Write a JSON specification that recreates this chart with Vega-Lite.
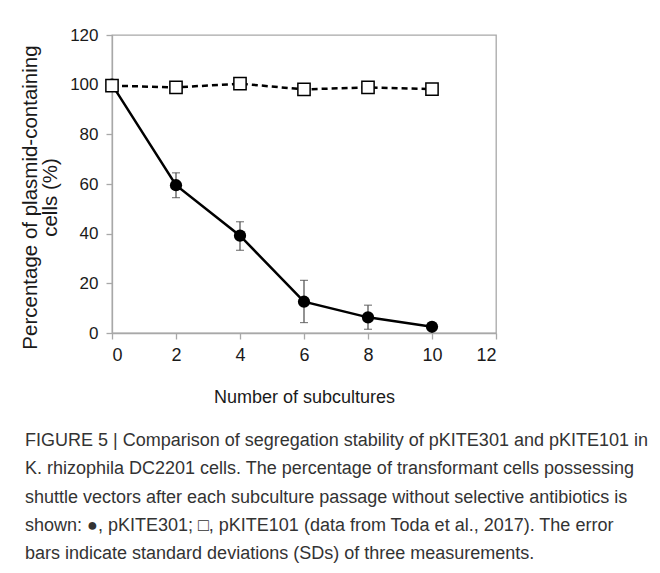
{
  "$schema": "https://vega.github.io/schema/vega-lite/v6.json",
  "width": 384,
  "height": 298,
  "autosize": "none",
  "padding": {"left": 112, "top": 35, "right": 164, "bottom": 240},
  "background": "white",
  "config": {
    "font": "Liberation Sans",
    "view": {"stroke": "#a8a8a8", "strokeWidth": 1.3},
    "axis": {
      "grid": false,
      "domainColor": "#a8a8a8",
      "tickColor": "#a8a8a8",
      "domainWidth": 1.3,
      "tickWidth": 1.3,
      "tickSize": 6,
      "labelColor": "#1a1a1a",
      "labelFont": "Liberation Sans",
      "labelFontSize": 17,
      "titleColor": "#1a1a1a",
      "titleFontWeight": "normal"
    }
  },
  "title": {
    "text": [
      "FIGURE 5 | Comparison of segregation stability of pKITE301 and pKITE101 in",
      "K. rhizophila DC2201 cells. The percentage of transformant cells possessing",
      "shuttle vectors after each subculture passage without selective antibiotics is",
      "shown: ●, pKITE301; □, pKITE101 (data from Toda et al., 2017). The error",
      "bars indicate standard deviations (SDs) of three measurements."
    ],
    "orient": "bottom",
    "anchor": "start",
    "frame": "group",
    "dx": -87,
    "offset": 26,
    "font": "Liberation Sans",
    "fontSize": 18,
    "fontWeight": "normal",
    "color": "#333333",
    "lineHeight": 28.3
  },
  "data": {
    "values": [
      {"series": "pKITE301", "subcultures": 0, "pct": 100, "low": 100, "high": 100},
      {"series": "pKITE301", "subcultures": 2, "pct": 59.5, "low": 54.5, "high": 64.5},
      {"series": "pKITE301", "subcultures": 4, "pct": 39.2, "low": 33.3, "high": 44.8},
      {"series": "pKITE301", "subcultures": 6, "pct": 12.6, "low": 4.2, "high": 21.2},
      {"series": "pKITE301", "subcultures": 8, "pct": 6.3, "low": 1.5, "high": 11.2},
      {"series": "pKITE301", "subcultures": 10, "pct": 2.5, "low": 2.5, "high": 2.5},
      {"series": "pKITE101", "subcultures": 0, "pct": 99.6},
      {"series": "pKITE101", "subcultures": 2, "pct": 98.9},
      {"series": "pKITE101", "subcultures": 4, "pct": 100.4},
      {"series": "pKITE101", "subcultures": 6, "pct": 98.1},
      {"series": "pKITE101", "subcultures": 8, "pct": 98.9},
      {"series": "pKITE101", "subcultures": 10, "pct": 98.2}
    ]
  },
  "encoding": {
    "x": {
      "field": "subcultures",
      "type": "quantitative",
      "scale": {"domain": [0, 12], "nice": false},
      "axis": {
        "values": [0, 2, 4, 6, 8, 10, 12],
        "title": "Number of subcultures",
        "titleFontSize": 18,
        "titlePadding": 24,
        "labelPadding": 7,
        "labelFontSize": 18
      }
    },
    "y": {
      "field": "pct",
      "type": "quantitative",
      "scale": {"domain": [0, 120], "nice": false},
      "axis": {
        "values": [0, 20, 40, 60, 80, 100, 120],
        "title": ["Percentage of plasmid-containing", "cells (%)"],
        "titleFontSize": 20.5,
        "titleLineHeight": 20,
        "titlePadding": 9,
        "titleY": 162,
        "labelPadding": 8
      }
    }
  },
  "layer": [
    {
      "transform": [{"filter": "datum.series == 'pKITE301'"}],
      "mark": {"type": "rule", "color": "#4a4a4a", "strokeWidth": 1.2},
      "encoding": {"y": {"field": "low", "type": "quantitative"}, "y2": {"field": "high"}}
    },
    {
      "transform": [{"filter": "datum.series == 'pKITE301'"}],
      "mark": {"type": "tick", "orient": "horizontal", "size": 8, "thickness": 1.2, "color": "#4a4a4a"},
      "encoding": {"y": {"field": "low", "type": "quantitative"}}
    },
    {
      "transform": [{"filter": "datum.series == 'pKITE301'"}],
      "mark": {"type": "tick", "orient": "horizontal", "size": 8, "thickness": 1.2, "color": "#4a4a4a"},
      "encoding": {"y": {"field": "high", "type": "quantitative"}}
    },
    {
      "transform": [{"filter": "datum.series == 'pKITE301'"}],
      "mark": {"type": "line", "color": "black", "strokeWidth": 2.5}
    },
    {
      "transform": [{"filter": "datum.series == 'pKITE101'"}],
      "mark": {"type": "line", "color": "black", "strokeWidth": 2.5, "strokeDash": [6, 4]}
    },
    {
      "transform": [{"filter": "datum.series == 'pKITE301'"}],
      "mark": {"type": "point", "shape": "circle", "filled": true, "color": "black", "opacity": 1, "size": 150}
    },
    {
      "transform": [{"filter": "datum.series == 'pKITE101'"}],
      "mark": {"type": "point", "shape": "square", "filled": true, "fill": "white", "stroke": "black", "strokeWidth": 1.5, "opacity": 1, "size": 150}
    }
  ]
}
